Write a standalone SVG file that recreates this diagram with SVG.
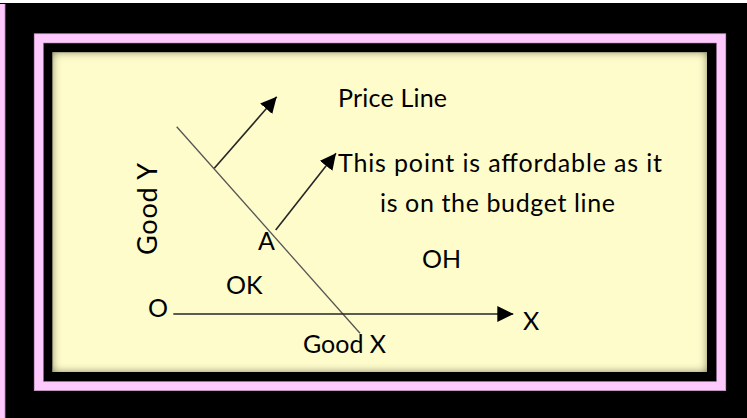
<svg xmlns="http://www.w3.org/2000/svg" width="747" height="418" viewBox="0 0 747 418">
  <style>
    .lbl { font-family: Lato, "Noto Sans", "Liberation Sans", sans-serif; font-size: 25px; fill: #000000; }
    .big { font-size: 27px; }
    .arr { stroke: #262626; stroke-width: 1.6; fill: none; marker-end: url(#head); }
    .budget { stroke: #555555; stroke-width: 1.3; fill: none; }
  </style>
  <defs>
    <marker id="head" viewBox="0 0 16 16" refX="16" refY="8" markerWidth="16" markerHeight="16" markerUnits="userSpaceOnUse" orient="auto">
      <path d="M0,0 L16,8 L0,16 Z" fill="#000000"/>
    </marker>
    <filter id="inset" x="-5%" y="-5%" width="110%" height="110%">
      <feFlood flood-color="#5f5f3a" result="c"/>
      <feComposite in="c" in2="SourceAlpha" operator="out" result="o"/>
      <feGaussianBlur in="o" stdDeviation="4.5" result="b"/>
      <feComposite in="b" in2="SourceAlpha" operator="in" result="s"/>
      <feMerge>
        <feMergeNode in="SourceGraphic"/>
        <feMergeNode in="s"/>
      </feMerge>
    </filter>
  </defs>

  <!-- background frame -->
  <rect x="0" y="0" width="747" height="418" fill="#000000"/>
  <rect x="0" y="0" width="747" height="3" fill="#ffffff"/>
  <rect x="0" y="4" width="5" height="414" fill="#fdc9fd"/>
  <line x1="5.2" y1="4" x2="5.2" y2="418" stroke="#8a6a8a" stroke-width="0.8"/>
  <rect x="38.7" y="38.3" width="682.6" height="347.9" fill="none" stroke="#fdc9fd" stroke-width="9.5"/>
  <rect x="34.2" y="33.8" width="691.6" height="356.9" fill="none" stroke="#9b7a9b" stroke-width="0.6"/>
  <rect x="43.3" y="43" width="673.2" height="338.6" fill="none" stroke="#9b7a9b" stroke-width="0.5"/>
  <rect x="52.5" y="52.3" width="654.5" height="319.7" fill="#fefccb" filter="url(#inset)"/>

  <!-- connectors -->
  <g id="connectors">
    <line class="budget" x1="176.7" y1="126.7" x2="360" y2="333.3"/>
    <line class="arr" x1="214.3" y1="168.3" x2="276.7" y2="96.7"/>
    <line class="arr" x1="275.7" y1="230" x2="336" y2="153.3"/>
    <line class="arr" x1="173.3" y1="314" x2="513.3" y2="314"/>
  </g>

  <g id="price-line-label"><text class="lbl" x="338" y="107" textLength="109">Price Line</text></g>
  <g id="affordable-note">
    <text class="lbl" x="338" y="172" textLength="324">This point is affordable as it</text>
    <text class="lbl" x="380" y="212" textLength="235">is on the budget line</text>
  </g>
  <g id="point-a"><text class="lbl" x="258" y="250">A</text></g>
  <g id="region-ok"><text class="lbl" x="226" y="294">OK</text></g>
  <g id="region-oh"><text class="lbl" x="422" y="268">OH</text></g>
  <g id="origin"><text class="lbl" x="148" y="317">O</text></g>
  <g id="axis-good-x"><text class="lbl" x="303" y="353" textLength="83">Good X</text></g>
  <g id="axis-x"><text class="lbl" x="523" y="330">X</text></g>
  <g id="axis-good-y"><text class="lbl big" transform="translate(156.7,255) rotate(-90)" x="0" y="0" textLength="92">Good Y</text></g>
</svg>
